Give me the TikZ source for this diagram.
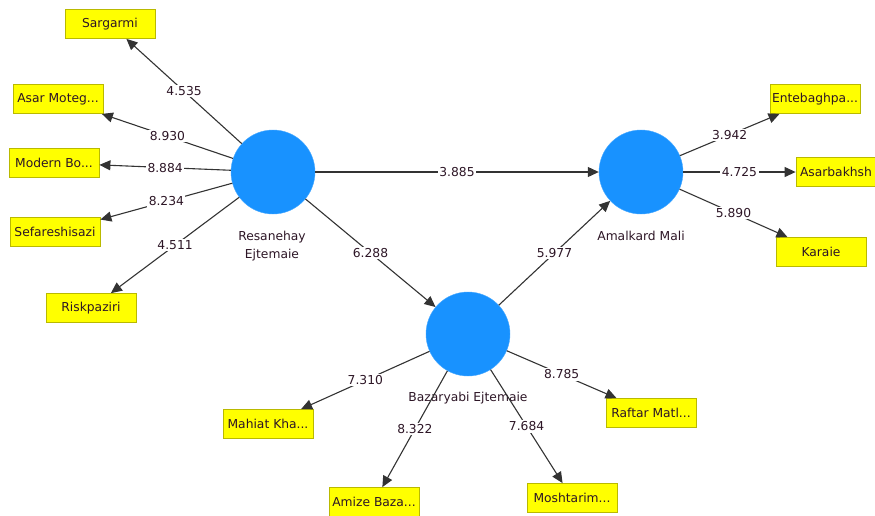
\documentclass[tikz,border=0pt]{standalone}
\usepackage{fontspec}
\setmainfont{DejaVu Sans}
\usetikzlibrary{arrows.meta}
\definecolor{lvblue}{RGB}{24,146,255}
\definecolor{boxyellow}{RGB}{255,255,0}
\definecolor{boxedge}{RGB}{185,185,0}
\definecolor{txtdark}{RGB}{45,22,38}
\tikzset{
  latent/.style={circle, fill=lvblue, draw=lvblue!80, minimum size=84pt, inner sep=0pt},
  ind/.style={rectangle, fill=boxyellow, draw=boxedge, line width=0.8pt, minimum width=90pt, minimum height=29pt, inner sep=1pt, font=\fontsize{12.3}{14}\selectfont, text=txtdark},
  lvname/.style={font=\fontsize{12.3}{18.5}\selectfont, text=txtdark, align=center},
  conn/.style={draw=black!80, line width=1.1pt, -{Triangle[length=11pt,width=10pt]}},
  lbl/.style={fill=white, inner sep=1.5pt, font=\fontsize{12.3}{14}\selectfont, text=txtdark}
}
\begin{document}
\begin{tikzpicture}[x=1pt,y=-1pt]
\useasboundingbox (0,0) rectangle (875,515);
% latent variables
\node[latent] (R) at (273,172) {};
\node[latent] (A) at (641,172) {};
\node[latent] (B) at (468,334) {};
\node[lvname] (Rl) at (272,246) {Resanehay\\Ejtemaie};
\node[lvname] (Al) at (641,236) {Amalkard Mali};
\node[lvname] (Bl) at (468,398) {Bazaryabi Ejtemaie};
% indicators
\node[ind] (sarg) at (110,24) {Sargarmi};
\node[ind] (asar) at (58,99) {Asar Moteg...};
\node[ind] (mod) at (54,163) {Modern Bo...};
\node[ind] (sef) at (55,232) {Sefareshisazi};
\node[ind] (risk) at (91,308) {Riskpaziri};
\node[ind] (ente) at (815,99) {Entebaghpa...};
\node[ind, text width=82pt, align=left] (asb) at (841,172) {Asarbakhsh};
\node[ind] (kar) at (821,252) {Karaie};
\node[ind] (mah) at (268,424) {Mahiat Kha...};
\node[ind] (ami) at (374,502) {Amize Baza...};
\node[ind] (mosh) at (572,498) {Moshtarim...};
\node[ind] (raf) at (651,413) {Raftar Matl...};
% structural paths
\draw[conn] (R) -- node[lbl] {3.885} (A);
\draw[conn] (R) -- node[lbl] {6.288} (B);
\draw[conn] (B) -- node[lbl] {5.977} (A);
% outer loadings
\draw[conn] (R) -- node[lbl] {4.535} (sarg);
\draw[conn] (R) -- node[lbl] {8.930} (asar);
\draw[conn] (R) -- node[lbl] {8.884} (mod);
\draw[conn] (R) -- node[lbl] {8.234} (sef);
\draw[conn] (R) -- node[lbl] {4.511} (risk);
\draw[conn] (A) -- node[lbl] {3.942} (ente);
\draw[conn] (A) -- node[lbl] {4.725} (asb);
\draw[conn] (A) -- node[lbl] {5.890} (kar);
\draw[conn] (B) -- node[lbl] {7.310} (mah);
\draw[conn] (B) -- node[lbl] {8.322} (ami);
\draw[conn] (B) -- node[lbl] {7.684} (mosh);
\draw[conn] (B) -- node[lbl] {8.785} (raf);
\end{tikzpicture}
\end{document}
